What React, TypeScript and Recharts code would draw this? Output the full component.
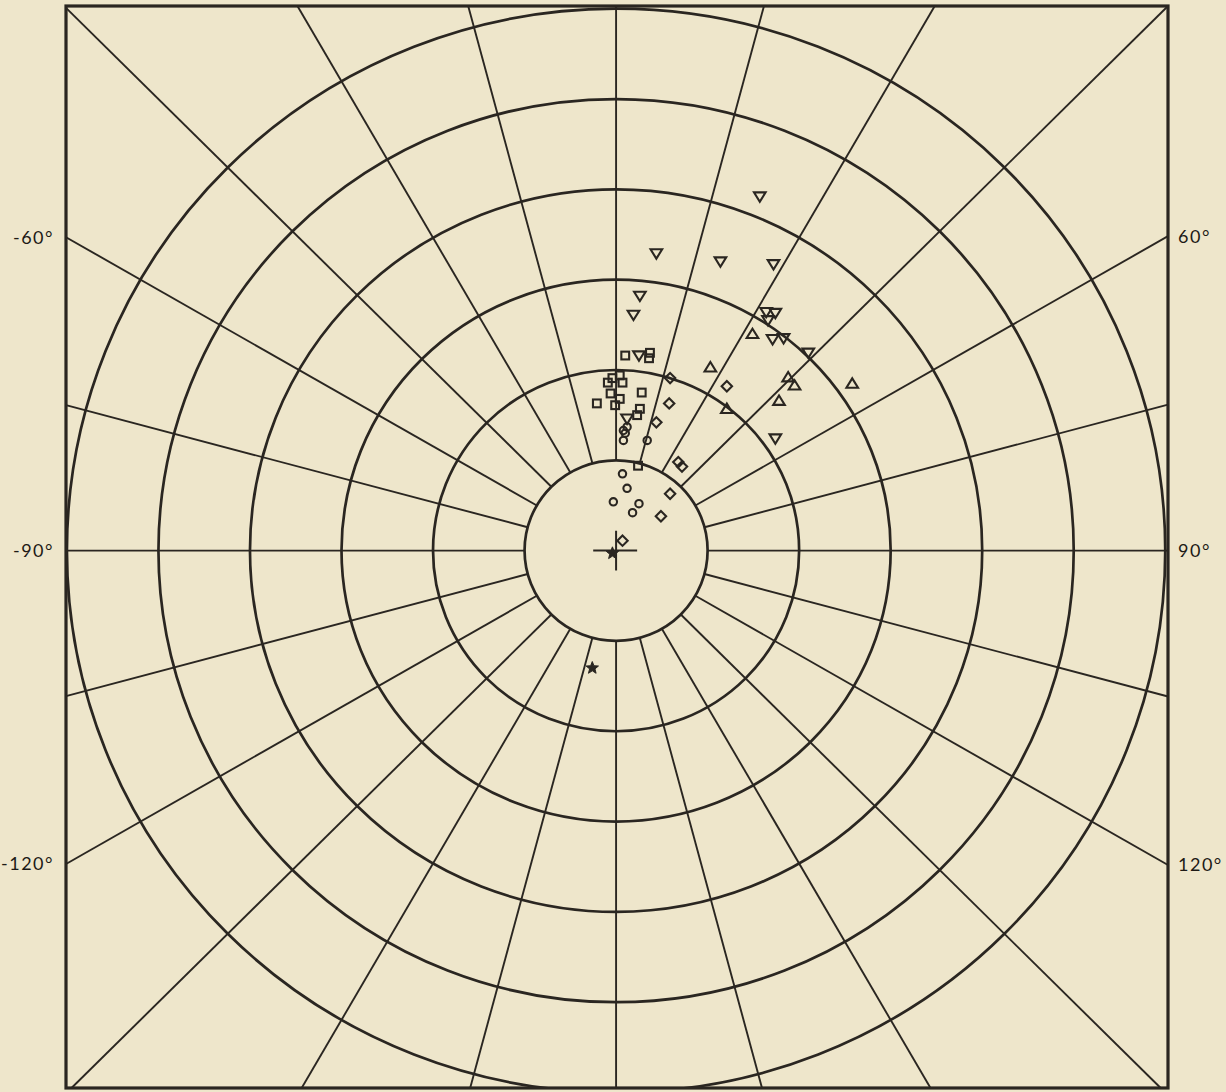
import * as R from 'recharts'

const { ScatterChart, Scatter, XAxis, YAxis, ReferenceLine, ReferenceDot, Customized } = R

const BG = '#eee6cb'
const INK = '#2a2621'

// axis domains, in ring units (one ring = one unit)
const X_DOMAIN: [number, number] = [-6.01, 6.03]
const Y_DOMAIN: [number, number] = [-5.95, 6.03]

const RINGS = [1, 2, 3, 4, 5, 6]
const SPOKES = [0, 15, 30, 45, 60, 75, 90, 105, 120, 135, 150, 165, 180, 195, 210, 225, 240, 255, 270, 285, 300, 315, 330, 345]

const LEFT_LABELS = ['-60°', '-90°', '-120°']
const LEFT_ANGLES = [150, 180, 210]
const RIGHT_LABELS = ['60°', '90°', '120°']
const RIGHT_ANGLES = [30, 0, -30]

// points: [x, y]
const downTriangles = [
  [1.57, 3.92], [0.44, 3.29], [1.14, 3.2], [1.72, 3.17], [0.26, 2.82], [0.19, 2.61],
  [1.64, 2.64], [1.74, 2.63], [1.66, 2.55], [1.71, 2.34], [1.83, 2.35], [2.1, 2.19],
  [1.74, 1.24], [0.25, 2.16], [0.12, 1.46],
]
const upTriangles = [
  [1.49, 2.4], [1.03, 2.03], [1.21, 1.57], [1.88, 1.92], [1.95, 1.83], [1.78, 1.66], [2.58, 1.85],
]
const diamonds = [
  [1.21, 1.82], [0.59, 1.91], [0.58, 1.63], [0.44, 1.42], [0.68, 0.98], [0.72, 0.93],
  [0.59, 0.63], [0.49, 0.38], [0.07, 0.11],
]
const circles = [
  [0.07, 0.85], [0.12, 0.69], [-0.03, 0.54], [0.25, 0.52], [0.18, 0.42], [0.34, 1.22],
  [0.08, 1.33], [0.12, 1.37], [0.1, 1.3], [0.08, 1.22],
]
const squares = [
  [0.1, 2.16], [0.37, 2.19], [0.36, 2.13], [-0.04, 1.91], [0.04, 1.94], [0.07, 1.86],
  [-0.09, 1.86], [0.28, 1.75], [-0.21, 1.63], [-0.06, 1.74], [0.04, 1.68], [-0.01, 1.61],
  [0.26, 1.57], [0.23, 1.5], [0.24, 0.94],
]
const stars = [
  [-0.04, -0.03], [-0.26, -1.3],
]

const toPts = (arr: number[][]) => arr.map(([x, y]) => ({ x, y }))

function edgePoint(deg: number) {
  const a = (deg * Math.PI) / 180
  const c = Math.cos(a)
  const s = Math.sin(a)
  const xe = c >= 0 ? X_DOMAIN[1] : -X_DOMAIN[0]
  const ye = s >= 0 ? Y_DOMAIN[1] : -Y_DOMAIN[0]
  const tx = Math.abs(c) > 1e-9 ? xe / Math.abs(c) : Infinity
  const ty = Math.abs(s) > 1e-9 ? ye / Math.abs(s) : Infinity
  const t = Math.min(tx, ty)
  return { x: c * t, y: s * t }
}

const MARGIN = { top: 6, right: 58, bottom: 4, left: 66 }
const W = 1226
const H = 1092

const useXS: any = (R as any).useXAxisScale
const useYS: any = (R as any).useYAxisScale
const usePA: any = (R as any).usePlotArea

function Rings() {
  const xs = useXS ? useXS() : null
  const ys = useYS ? useYS() : null
  const pa = (usePA ? usePA() : null) ?? {
    x: MARGIN.left,
    y: MARGIN.top,
    width: W - MARGIN.left - MARGIN.right,
    height: H - MARGIN.top - MARGIN.bottom,
  }
  const sx = (v: number) =>
    xs ? xs(v) : pa.x + ((v - X_DOMAIN[0]) / (X_DOMAIN[1] - X_DOMAIN[0])) * pa.width
  const sy = (v: number) =>
    ys ? ys(v) : pa.y + ((Y_DOMAIN[1] - v) / (Y_DOMAIN[1] - Y_DOMAIN[0])) * pa.height
  const cx = sx(0)
  const cy = sy(0)
  return (
    <g>
      <defs>
        <clipPath id="frameClip">
          <rect x={pa.x} y={pa.y} width={pa.width} height={pa.height} />
        </clipPath>
      </defs>
      <g clipPath="url(#frameClip)">
        {RINGS.map((r) => (
          <ellipse
            key={r}
            cx={cx}
            cy={cy}
            rx={sx(r) - cx}
            ry={cy - sy(r)}
            fill="none"
            stroke={INK}
            strokeWidth={2.7}
          />
        ))}
      </g>
      <rect x={pa.x} y={pa.y} width={pa.width} height={pa.height} fill="none" stroke={INK} strokeWidth={3.2} />
    </g>
  )
}

const shapeOf = (kind: string) => (p: any) => {
  const { cx, cy } = p
  if (cx == null || cy == null) return <g />
  const st = { fill: 'none', stroke: INK, strokeWidth: 2.1 }
  if (kind === 'down')
    return <path d={`M${cx - 5.8},${cy - 4.2} L${cx + 5.8},${cy - 4.2} L${cx},${cy + 5.2} Z`} {...st} />
  if (kind === 'up')
    return <path d={`M${cx - 5.8},${cy + 4.2} L${cx + 5.8},${cy + 4.2} L${cx},${cy - 5.2} Z`} {...st} />
  if (kind === 'square') return <rect x={cx - 3.9} y={cy - 3.9} width={7.8} height={7.8} {...st} />
  if (kind === 'diamond')
    return <path d={`M${cx},${cy - 5.2} L${cx + 5.2},${cy} L${cx},${cy + 5.2} L${cx - 5.2},${cy} Z`} {...st} />
  if (kind === 'circle') return <circle cx={cx} cy={cy} r={3.7} {...st} />
  // star
  const pts: string[] = []
  for (let i = 0; i < 10; i++) {
    const rr = i % 2 === 0 ? 6.5 : 2.8
    const a = -Math.PI / 2 + (i * Math.PI) / 5
    pts.push(`${cx + rr * Math.cos(a)},${cy + rr * Math.sin(a)}`)
  }
  return <polygon points={pts.join(' ')} fill={INK} stroke={INK} strokeWidth={1} />
}

const labelStyle = {
  fill: '#1d1a16',
  fontSize: 18,
  letterSpacing: 1.5,
  fontFamily: 'Lato, "DejaVu Sans", sans-serif',
}

export default function App() {
  return (
    <div style={{ width: W, height: H, background: BG }}>
      <style>{`body{margin:0;background:${BG}}`}</style>
      <ScatterChart width={W} height={H} margin={MARGIN}>
        <XAxis type="number" dataKey="x" domain={X_DOMAIN} hide allowDataOverflow />
        <YAxis type="number" dataKey="y" domain={Y_DOMAIN} hide allowDataOverflow />
        <Customized component={Rings} />
        {SPOKES.map((deg) => {
          const a = (deg * Math.PI) / 180
          return (
            <ReferenceLine
              key={deg}
              segment={[{ x: Math.cos(a), y: Math.sin(a) }, edgePoint(deg)]}
              stroke={INK}
              strokeWidth={1.9}
              ifOverflow="visible"
            />
          )
        })}
        <ReferenceLine segment={[{ x: -0.25, y: 0 }, { x: 0.23, y: 0 }]} stroke={INK} strokeWidth={2} ifOverflow="visible" />
        <ReferenceLine segment={[{ x: 0, y: -0.22 }, { x: 0, y: 0.22 }]} stroke={INK} strokeWidth={2} ifOverflow="visible" />
        {LEFT_LABELS.map((t, i) => {
          const p = edgePoint(LEFT_ANGLES[i])
          return (
            <ReferenceDot key={t} x={p.x} y={p.y} r={1} fill="none" stroke="none" ifOverflow="visible"
              label={{ value: t, position: 'left', offset: 11, ...labelStyle }} />
          )
        })}
        {RIGHT_LABELS.map((t, i) => {
          const p = edgePoint(RIGHT_ANGLES[i])
          return (
            <ReferenceDot key={t} x={p.x} y={p.y} r={1} fill="none" stroke="none" ifOverflow="visible"
              label={{ value: t, position: 'right', offset: 9, ...labelStyle }} />
          )
        })}
        <Scatter data={toPts(downTriangles)} shape={shapeOf('down')} isAnimationActive={false} />
        <Scatter data={toPts(upTriangles)} shape={shapeOf('up')} isAnimationActive={false} />
        <Scatter data={toPts(diamonds)} shape={shapeOf('diamond')} isAnimationActive={false} />
        <Scatter data={toPts(circles)} shape={shapeOf('circle')} isAnimationActive={false} />
        <Scatter data={toPts(squares)} shape={shapeOf('square')} isAnimationActive={false} />
        <Scatter data={toPts(stars)} shape={shapeOf('star')} isAnimationActive={false} />
      </ScatterChart>
    </div>
  )
}
